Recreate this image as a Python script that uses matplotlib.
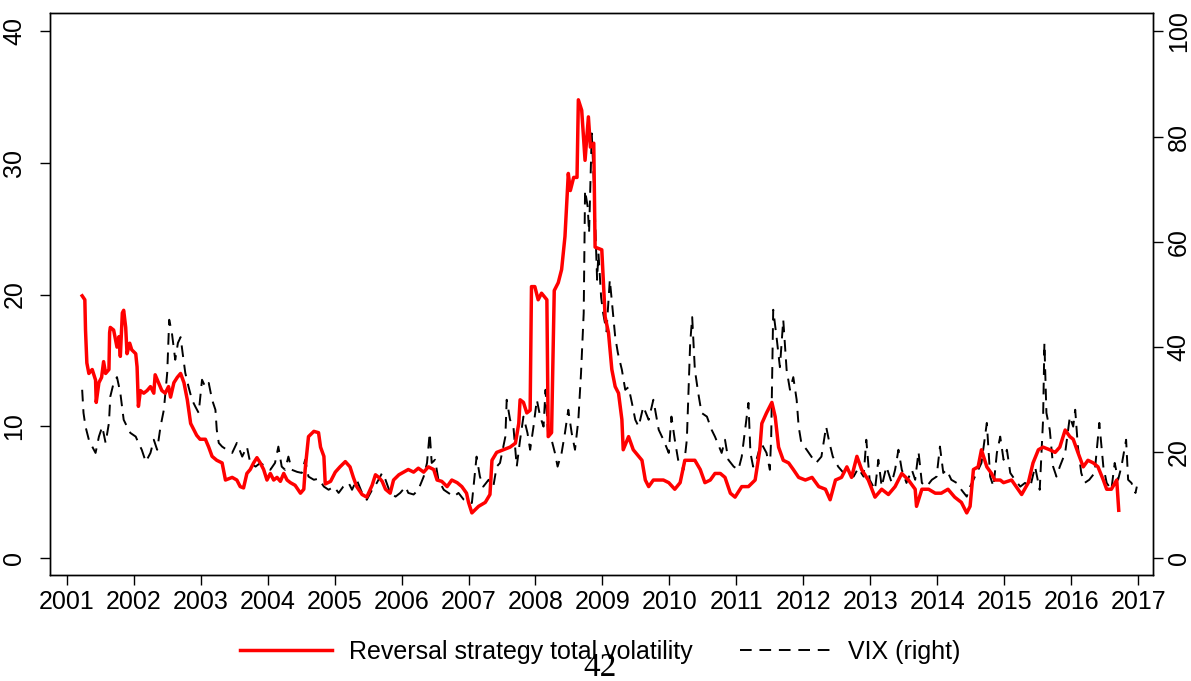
import matplotlib
matplotlib.use("Agg")
import matplotlib.pyplot as plt
from matplotlib.lines import Line2D

plt.rcParams['font.family'] = ['Liberation Sans', 'DejaVu Sans']

# Reversal strategy total volatility (left axis)
red_years = [2001.23, 2001.27, 2001.28, 2001.30, 2001.33, 2001.38, 2001.43, 2001.44, 2001.48, 2001.52,
             2001.55, 2001.58, 2001.63, 2001.64, 2001.65, 2001.70, 2001.75, 2001.78, 2001.80, 2001.83,
             2001.85, 2001.88, 2001.90, 2001.94, 2001.97, 2002.03, 2002.05, 2002.07, 2002.10, 2002.15,
             2002.20, 2002.25, 2002.30, 2002.32, 2002.37, 2002.42, 2002.47, 2002.52, 2002.55, 2002.60,
             2002.65, 2002.70, 2002.75, 2002.80, 2002.85, 2002.90, 2002.94, 2002.99, 2003.07, 2003.12,
             2003.17, 2003.24, 2003.32, 2003.37, 2003.47, 2003.54, 2003.59, 2003.64, 2003.69, 2003.74,
             2003.79, 2003.84, 2003.89, 2003.94, 2003.99, 2004.04, 2004.09, 2004.14, 2004.19, 2004.24,
             2004.29, 2004.34, 2004.41, 2004.49, 2004.54, 2004.56, 2004.61, 2004.69, 2004.76, 2004.79,
             2004.84, 2004.86, 2004.94, 2005.01, 2005.08, 2005.16, 2005.23, 2005.28, 2005.33, 2005.41,
             2005.48, 2005.56, 2005.61, 2005.66, 2005.71, 2005.76, 2005.83, 2005.88, 2005.96, 2006.03,
             2006.10, 2006.18, 2006.25, 2006.33, 2006.40, 2006.48, 2006.53, 2006.60, 2006.68, 2006.75,
             2006.83, 2006.90, 2006.97, 2007.00, 2007.05, 2007.15, 2007.25, 2007.32, 2007.35, 2007.42,
             2007.52, 2007.62, 2007.70, 2007.75, 2007.77, 2007.82, 2007.87, 2007.92, 2007.94, 2007.99,
             2008.04, 2008.09, 2008.17, 2008.19, 2008.24, 2008.28, 2008.34, 2008.39, 2008.44, 2008.49,
             2008.52, 2008.57, 2008.62, 2008.64, 2008.69, 2008.74, 2008.79, 2008.82, 2008.87, 2008.89,
             2008.99, 2009.04, 2009.09, 2009.14, 2009.19, 2009.24, 2009.29, 2009.31, 2009.39, 2009.46,
             2009.54, 2009.59, 2009.64, 2009.69, 2009.76, 2009.84, 2009.91, 2009.99, 2010.08, 2010.16,
             2010.23, 2010.31, 2010.38, 2010.46, 2010.53, 2010.61, 2010.68, 2010.76, 2010.83, 2010.91,
             2010.98, 2011.08, 2011.18, 2011.28, 2011.35, 2011.38, 2011.45, 2011.53, 2011.58, 2011.63,
             2011.70, 2011.78, 2011.85, 2011.93, 2012.03, 2012.13, 2012.23, 2012.33, 2012.40, 2012.48,
             2012.57, 2012.65, 2012.72, 2012.80, 2012.87, 2012.97, 2013.07, 2013.17, 2013.27, 2013.37,
             2013.47, 2013.57, 2013.67, 2013.69, 2013.77, 2013.87, 2013.97, 2014.06, 2014.16, 2014.26,
             2014.36, 2014.44, 2014.49, 2014.54, 2014.61, 2014.66, 2014.74, 2014.81, 2014.86, 2014.94,
             2014.99, 2015.11, 2015.26, 2015.36, 2015.43, 2015.51, 2015.58, 2015.68, 2015.76, 2015.83,
             2015.91, 2015.98, 2016.03, 2016.10, 2016.18, 2016.25, 2016.33, 2016.40, 2016.48, 2016.53,
             2016.60, 2016.68, 2016.71]
red_vals = [19.9, 19.6, 17.3, 14.8, 14.0, 14.3, 13.5, 11.8, 13.3, 13.7,
            14.9, 14.0, 14.3, 17.1, 17.5, 17.3, 16.0, 16.8, 15.3, 18.6,
            18.8, 17.5, 15.5, 16.3, 15.8, 15.5, 14.5, 11.5, 12.7, 12.5,
            12.7, 13.0, 12.5, 13.9, 13.3, 12.7, 12.5, 13.0, 12.2, 13.3,
            13.7, 14.0, 13.3, 12.0, 10.2, 9.7, 9.3, 9.0, 9.0, 8.4,
            7.7, 7.4, 7.2, 5.9, 6.1, 5.9, 5.4, 5.3, 6.4, 6.7,
            7.2, 7.6, 7.2, 6.7, 5.9, 6.4, 5.9, 6.1, 5.8, 6.4,
            5.9, 5.7, 5.5, 4.9, 5.2, 6.7, 9.2, 9.6, 9.5, 8.4,
            7.7, 5.6, 5.8, 6.5, 6.9, 7.3, 6.9, 6.1, 5.4, 4.8,
            4.6, 5.5, 6.3, 6.1, 5.8, 5.2, 4.9, 5.9, 6.3, 6.5,
            6.7, 6.5, 6.8, 6.5, 6.9, 6.7, 5.9, 5.8, 5.4, 5.9,
            5.7, 5.4, 4.9, 4.2, 3.4, 3.9, 4.2, 4.8, 7.4, 8.0,
            8.2, 8.4, 8.7, 10.2, 12.0, 11.8, 11.0, 11.2, 20.6, 20.6,
            19.6, 20.1, 19.6, 9.2, 9.5, 20.3, 20.9, 21.9, 24.4, 29.2,
            27.9, 28.9, 28.9, 34.8, 34.0, 30.2, 33.5, 31.2, 31.5, 23.6,
            23.4, 18.3, 17.1, 14.3, 13.0, 12.5, 10.5, 8.2, 9.2, 8.2,
            7.7, 7.4, 5.9, 5.4, 5.9, 5.9, 5.9, 5.7, 5.2, 5.7,
            7.4, 7.4, 7.4, 6.7, 5.7, 5.9, 6.4, 6.4, 6.1, 4.9,
            4.6, 5.4, 5.4, 5.9, 8.2, 10.2, 11.0, 11.8, 10.7, 8.4,
            7.4, 7.2, 6.7, 6.1, 5.9, 6.1, 5.4, 5.2, 4.4, 5.9,
            6.1, 6.9, 6.1, 7.7, 6.7, 5.9, 4.6, 5.2, 4.8, 5.4,
            6.4, 5.9, 5.2, 3.9, 5.2, 5.2, 4.9, 4.9, 5.2, 4.6,
            4.2, 3.4, 3.9, 6.7, 6.9, 8.2, 6.9, 6.4, 5.9, 5.9,
            5.7, 5.9, 4.8, 5.7, 7.2, 8.2, 8.4, 8.2, 8.0, 8.4,
            9.7, 9.2, 9.0, 8.0, 6.9, 7.4, 7.2, 6.9, 5.9, 5.2,
            5.2, 5.9, 3.6]

# VIX (right axis)
vix_years = [2001.23, 2001.25, 2001.28, 2001.33, 2001.38, 2001.43, 2001.48, 2001.53, 2001.58, 2001.63,
             2001.65, 2001.70, 2001.75, 2001.80, 2001.85, 2001.90, 2001.95, 2002.03, 2002.07, 2002.12,
             2002.18, 2002.25, 2002.30, 2002.35, 2002.40, 2002.45, 2002.50, 2002.53, 2002.57, 2002.62,
             2002.66, 2002.70, 2002.73, 2002.77, 2002.82, 2002.87, 2002.92, 2002.97, 2003.02, 2003.07,
             2003.12, 2003.17, 2003.22, 2003.24, 2003.27, 2003.32, 2003.39, 2003.47, 2003.54, 2003.62,
             2003.69, 2003.74, 2003.82, 2003.89, 2003.97, 2004.04, 2004.11, 2004.16, 2004.21, 2004.26,
             2004.31, 2004.36, 2004.44, 2004.51, 2004.56, 2004.61, 2004.69, 2004.76, 2004.84, 2004.91,
             2004.99, 2005.06, 2005.13, 2005.21, 2005.26, 2005.33, 2005.41, 2005.48, 2005.56, 2005.63,
             2005.71, 2005.76, 2005.83, 2005.91, 2005.98, 2006.06, 2006.10, 2006.18, 2006.25, 2006.33,
             2006.38, 2006.42, 2006.45, 2006.50, 2006.55, 2006.63, 2006.70, 2006.78, 2006.85, 2006.93,
             2007.00, 2007.05, 2007.12, 2007.17, 2007.22, 2007.30, 2007.37, 2007.42, 2007.47, 2007.55,
             2007.57, 2007.62, 2007.67, 2007.72, 2007.77, 2007.82, 2007.88, 2007.92, 2007.97, 2008.02,
             2008.07, 2008.12, 2008.15, 2008.19, 2008.24, 2008.29, 2008.33, 2008.39, 2008.44, 2008.49,
             2008.54, 2008.59, 2008.64, 2008.68, 2008.72, 2008.74, 2008.78, 2008.80, 2008.84, 2008.87,
             2008.89, 2008.92, 2008.94, 2008.98, 2009.01, 2009.06, 2009.11, 2009.15, 2009.19, 2009.23,
             2009.29, 2009.34, 2009.39, 2009.44, 2009.49, 2009.54, 2009.61, 2009.69, 2009.76, 2009.84,
             2009.91, 2009.99, 2010.03, 2010.08, 2010.13, 2010.21, 2010.26, 2010.31, 2010.34, 2010.38,
             2010.43, 2010.48, 2010.56, 2010.63, 2010.68, 2010.78, 2010.83, 2010.88, 2010.96, 2011.03,
             2011.08, 2011.18, 2011.21, 2011.25, 2011.30, 2011.37, 2011.45, 2011.50, 2011.52, 2011.55,
             2011.60, 2011.65, 2011.70, 2011.75, 2011.80, 2011.85, 2011.90, 2011.93, 2011.97, 2012.05,
             2012.12, 2012.19, 2012.27, 2012.34, 2012.39, 2012.44, 2012.52, 2012.60, 2012.67, 2012.75,
             2012.82, 2012.90, 2012.94, 2012.99, 2013.07, 2013.12, 2013.17, 2013.24, 2013.32, 2013.37,
             2013.42, 2013.47, 2013.54, 2013.62, 2013.67, 2013.72, 2013.77, 2013.84, 2013.92, 2013.99,
             2014.04, 2014.09, 2014.14, 2014.21, 2014.29, 2014.36, 2014.44, 2014.49, 2014.54, 2014.59,
             2014.66, 2014.74, 2014.79, 2014.84, 2014.89, 2014.94, 2014.99, 2015.04, 2015.09, 2015.16,
             2015.24, 2015.31, 2015.39, 2015.46, 2015.53, 2015.58, 2015.60, 2015.63, 2015.68, 2015.73,
             2015.78, 2015.83, 2015.91, 2015.98, 2016.03, 2016.06, 2016.10, 2016.15, 2016.20, 2016.27,
             2016.35, 2016.42, 2016.48, 2016.53, 2016.60, 2016.65, 2016.70, 2016.75, 2016.82, 2016.85,
             2016.90, 2016.96, 2016.98]
vix_vals = [31.9, 27.5, 24.9, 22.4, 21.1, 19.9, 23.0, 24.9, 21.8, 25.6,
            30.6, 33.2, 34.3, 31.3, 26.2, 24.9, 23.7, 23.0, 21.8, 20.5,
            18.2, 19.9, 22.4, 20.5, 24.9, 28.1, 35.1, 45.2, 42.7, 37.6,
            40.8, 41.9, 38.9, 35.1, 32.4, 30.0, 28.7, 27.5, 33.8, 32.4,
            33.2, 30.0, 28.1, 24.3, 21.8, 21.1, 20.5, 19.9, 21.8, 19.2,
            21.1, 18.0, 17.3, 18.0, 17.3, 16.7, 18.0, 21.1, 17.3, 16.7,
            19.2, 16.7, 16.3, 16.1, 18.6, 15.4, 14.8, 15.0, 13.5, 12.9,
            13.5, 12.3, 13.5, 14.2, 12.9, 14.8, 12.3, 11.0, 12.9, 14.2,
            16.1, 14.8, 12.3, 11.6, 12.3, 13.5, 12.3, 12.0, 12.9, 15.4,
            18.0, 23.7, 18.0, 18.6, 14.8, 12.9, 12.3, 11.6, 12.3, 11.0,
            10.4, 10.4, 19.2, 15.4, 13.5, 14.8, 13.5, 17.3, 18.0, 23.0,
            30.0, 26.2, 24.9, 17.3, 22.4, 26.8, 23.7, 20.5, 24.9, 30.0,
            26.8, 24.9, 31.9, 23.0, 22.4, 19.9, 17.3, 19.9, 23.7, 28.1,
            23.7, 20.5, 26.2, 35.1, 46.5, 69.8, 66.6, 61.7, 80.6, 71.7,
            64.1, 52.8, 57.9, 49.5, 46.5, 43.0, 52.8, 47.5, 42.0, 38.9,
            35.7, 31.9, 32.4, 29.4, 26.2, 24.9, 28.7, 26.2, 30.0, 24.3,
            22.4, 19.9, 26.8, 22.4, 18.6, 16.7, 22.4, 40.8, 45.7, 35.7,
            31.3, 27.5, 26.8, 24.3, 23.0, 19.9, 22.4, 18.6, 17.3, 16.7,
            19.2, 29.4, 19.9, 17.3, 18.6, 21.8, 19.9, 16.7, 23.0, 47.1,
            41.9, 36.2, 45.2, 35.7, 31.9, 34.3, 30.0, 24.9, 21.8, 20.5,
            19.2, 18.0, 19.2, 24.9, 21.8, 19.2, 17.3, 16.1, 16.7, 15.4,
            17.0, 15.4, 22.4, 14.8, 12.9, 18.6, 13.5, 17.3, 14.2, 16.7,
            20.5, 16.7, 14.2, 16.7, 14.8, 20.1, 14.2, 13.5, 14.8, 15.4,
            21.1, 16.1, 16.7, 14.8, 14.2, 12.9, 11.6, 13.5, 14.8, 16.1,
            18.0, 25.6, 15.4, 13.5, 19.9, 23.0, 18.6, 20.5, 16.1, 14.8,
            13.5, 14.2, 13.5, 17.3, 12.9, 26.2, 40.8, 27.5, 24.3, 17.3,
            15.4, 17.3, 19.9, 26.8, 24.9, 28.1, 21.1, 16.1, 14.2, 14.8,
            16.1, 25.6, 17.3, 14.2, 12.9, 18.0, 14.8, 17.3, 22.4, 14.8,
            14.2, 12.3, 13.5]

year_ticks = list(range(2001, 2018))
left_ticks = [0, 10, 20, 30, 40]
right_ticks = [0, 20, 40, 60, 80, 100]

fig = plt.figure(figsize=(11.91, 6.81), dpi=100)
ax = fig.add_axes([0.042, 0.156, 0.926, 0.825])
ax2 = ax.twinx()

ax.plot(red_years, red_vals, color='red', lw=2.5,
        label='Reversal strategy total volatility')
ax2.plot(vix_years, vix_vals, color='black', lw=1.4, dashes=(6, 4),
         label='VIX (right)')

# red line sits on top of the dashed VIX
ax.set_zorder(ax2.get_zorder() + 1)
ax.patch.set_visible(False)

ax.set_xlim(2000.75, 2017.22)
ax.set_ylim(-1.3, 41.4)
ax2.set_ylim(-1.3 * 2.5, 41.4 * 2.5)

ax.set_xticks(year_ticks)
ax.set_xticklabels([str(y) for y in year_ticks])
ax.set_yticks(left_ticks)
ax.set_yticklabels([str(v) for v in left_ticks], rotation=90, va='center')
ax2.set_yticks(right_ticks)
ax2.set_yticklabels([str(v) for v in right_ticks], rotation=90, va='center')

for a in (ax, ax2):
    a.tick_params(axis='both', labelsize=18, length=7, width=1, pad=4)
    for s in a.spines.values():
        s.set_linewidth(1)
ax.tick_params(axis='y', pad=10)
ax2.tick_params(axis='y', pad=3)

handles = [Line2D([], [], color='red', lw=2.5),
           Line2D([], [], color='black', lw=1.4, dashes=(6, 4))]
labels = ['Reversal strategy total volatility', 'VIX (right)']
fig.legend(handles, labels, loc='center', bbox_to_anchor=(0.504, 0.043), ncol=2,
           frameon=False, fontsize=18, handlelength=3.7, handletextpad=0.65,
           columnspacing=1.9)

fig.text(0.504, 1 - 653 / 681, '42', ha='center', va='top', fontsize=24,
         family=['Liberation Serif', 'DejaVu Serif'])

fig.savefig('out.png', dpi=100)
